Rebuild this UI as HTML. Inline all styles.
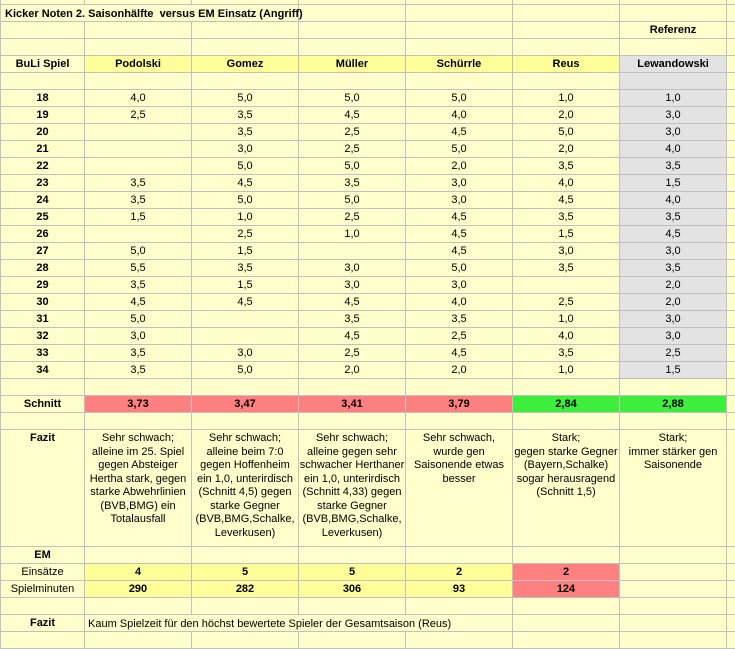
<!DOCTYPE html>
<html><head><meta charset="utf-8"><style>
body{margin:0;width:735px;height:636px;overflow:hidden;background:#FFFFCC;font-family:"Liberation Sans",Arial,sans-serif;font-size:11px;color:#000;position:relative}
table{position:absolute;left:0;top:-13px;border-collapse:collapse;table-layout:fixed;width:746px}
td{border:1px solid #C0C0C0;height:16px;padding:0;text-align:center;vertical-align:middle;white-space:nowrap;line-height:13px;overflow:hidden}
tr.f td{height:117px;vertical-align:top;padding-top:2px;line-height:13.5px;box-sizing:border-box}
td.b{font-weight:bold}
.y{background:#FFFF99}.r{background:#FF8080}.g{background:#3DEE3D}.gr{background:#E3E3E3}
td.nl{border-left:none}td.nr{border-right:none}
.abs{position:absolute;white-space:nowrap;font-size:11px;line-height:13px}
</style></head><body>
<table>
<colgroup><col style="width:84px"><col style="width:107px"><col style="width:107px"><col style="width:107px"><col style="width:107px"><col style="width:107px"><col style="width:107px"><col style="width:20px"></colgroup>
<tr><td></td><td></td><td></td><td></td><td></td><td></td><td></td><td></td></tr>
<tr><td class="nr"></td><td class="nl nr"></td><td class="nl"></td><td></td><td></td><td></td><td></td><td></td></tr>
<tr><td></td><td></td><td></td><td></td><td></td><td></td><td class="b">Referenz</td><td></td></tr>
<tr><td></td><td></td><td></td><td></td><td></td><td></td><td></td><td></td></tr>
<tr><td class="b">BuLi Spiel</td><td class="b y">Podolski</td><td class="b y">Gomez</td><td class="b y">Müller</td><td class="b y">Schürrle</td><td class="b y">Reus</td><td class="b gr">Lewandowski</td><td></td></tr>
<tr><td></td><td></td><td></td><td></td><td></td><td></td><td class="gr"></td><td></td></tr>
<tr><td class="b">18</td><td>4,0</td><td>5,0</td><td>5,0</td><td>5,0</td><td>1,0</td><td class="gr">1,0</td><td></td></tr>
<tr><td class="b">19</td><td>2,5</td><td>3,5</td><td>4,5</td><td>4,0</td><td>2,0</td><td class="gr">3,0</td><td></td></tr>
<tr><td class="b">20</td><td></td><td>3,5</td><td>2,5</td><td>4,5</td><td>5,0</td><td class="gr">3,0</td><td></td></tr>
<tr><td class="b">21</td><td></td><td>3,0</td><td>2,5</td><td>5,0</td><td>2,0</td><td class="gr">4,0</td><td></td></tr>
<tr><td class="b">22</td><td></td><td>5,0</td><td>5,0</td><td>2,0</td><td>3,5</td><td class="gr">3,5</td><td></td></tr>
<tr><td class="b">23</td><td>3,5</td><td>4,5</td><td>3,5</td><td>3,0</td><td>4,0</td><td class="gr">1,5</td><td></td></tr>
<tr><td class="b">24</td><td>3,5</td><td>5,0</td><td>5,0</td><td>3,0</td><td>4,5</td><td class="gr">4,0</td><td></td></tr>
<tr><td class="b">25</td><td>1,5</td><td>1,0</td><td>2,5</td><td>4,5</td><td>3,5</td><td class="gr">3,5</td><td></td></tr>
<tr><td class="b">26</td><td></td><td>2,5</td><td>1,0</td><td>4,5</td><td>1,5</td><td class="gr">4,5</td><td></td></tr>
<tr><td class="b">27</td><td>5,0</td><td>1,5</td><td></td><td>4,5</td><td>3,0</td><td class="gr">3,0</td><td></td></tr>
<tr><td class="b">28</td><td>5,5</td><td>3,5</td><td>3,0</td><td>5,0</td><td>3,5</td><td class="gr">3,5</td><td></td></tr>
<tr><td class="b">29</td><td>3,5</td><td>1,5</td><td>3,0</td><td>3,0</td><td></td><td class="gr">2,0</td><td></td></tr>
<tr><td class="b">30</td><td>4,5</td><td>4,5</td><td>4,5</td><td>4,0</td><td>2,5</td><td class="gr">2,0</td><td></td></tr>
<tr><td class="b">31</td><td>5,0</td><td></td><td>3,5</td><td>3,5</td><td>1,0</td><td class="gr">3,0</td><td></td></tr>
<tr><td class="b">32</td><td>3,0</td><td></td><td>4,5</td><td>2,5</td><td>4,0</td><td class="gr">3,0</td><td></td></tr>
<tr><td class="b">33</td><td>3,5</td><td>3,0</td><td>2,5</td><td>4,5</td><td>3,5</td><td class="gr">2,5</td><td></td></tr>
<tr><td class="b">34</td><td>3,5</td><td>5,0</td><td>2,0</td><td>2,0</td><td>1,0</td><td class="gr">1,5</td><td></td></tr>
<tr><td></td><td></td><td></td><td></td><td></td><td></td><td></td><td></td></tr>
<tr><td class="b">Schnitt</td><td class="b r">3,73</td><td class="b r">3,47</td><td class="b r">3,41</td><td class="b r">3,79</td><td class="b g">2,84</td><td class="b g">2,88</td><td></td></tr>
<tr><td></td><td></td><td></td><td></td><td></td><td></td><td></td><td></td></tr>
<tr class="f"><td class="b">Fazit</td>
<td>Sehr schwach;<br>alleine im 25. Spiel<br>gegen Absteiger<br>Hertha stark, gegen<br>starke Abwehrlinien<br>(BVB,BMG) ein<br>Totalausfall</td>
<td>Sehr schwach;<br>alleine beim 7:0<br>gegen Hoffenheim<br>ein 1,0, unterirdisch<br>(Schnitt 4,5) gegen<br>starke Gegner<br>(BVB,BMG,Schalke,<br>Leverkusen)</td>
<td>Sehr schwach;<br>alleine gegen sehr<br>schwacher Herthaner<br>ein 1,0, unterirdisch<br>(Schnitt 4,33) gegen<br>starke Gegner<br>(BVB,BMG,Schalke,<br>Leverkusen)</td>
<td>Sehr schwach,<br>wurde gen<br>Saisonende etwas<br>besser</td>
<td>Stark;<br>gegen starke Gegner<br>(Bayern,Schalke)<br>sogar herausragend<br>(Schnitt 1,5)</td>
<td>Stark;<br>immer stärker gen<br>Saisonende</td><td></td></tr>
<tr><td class="b">EM</td><td></td><td></td><td></td><td></td><td></td><td></td><td></td></tr>
<tr><td>Einsätze</td><td class="b y">4</td><td class="b y">5</td><td class="b y">5</td><td class="b y">2</td><td class="b r">2</td><td></td><td></td></tr>
<tr><td>Spielminuten</td><td class="b y">290</td><td class="b y">282</td><td class="b y">306</td><td class="b y">93</td><td class="b r">124</td><td></td><td></td></tr>
<tr><td></td><td></td><td></td><td></td><td></td><td></td><td></td><td></td></tr>
<tr><td class="b">Fazit</td><td class="nr"></td><td class="nl nr"></td><td class="nl nr"></td><td class="nl"></td><td></td><td></td><td></td></tr>
<tr><td></td><td></td><td></td><td></td><td></td><td></td><td></td><td></td></tr>
</table>
<div class="abs" style="left:5px;top:8px;font-weight:bold">Kicker Noten 2. Saisonhälfte&nbsp; versus EM Einsatz (Angriff)</div>
<div class="abs" style="left:88px;top:618px">Kaum Spielzeit für den höchst bewertete Spieler der Gesamtsaison (Reus)</div>
</body></html>
